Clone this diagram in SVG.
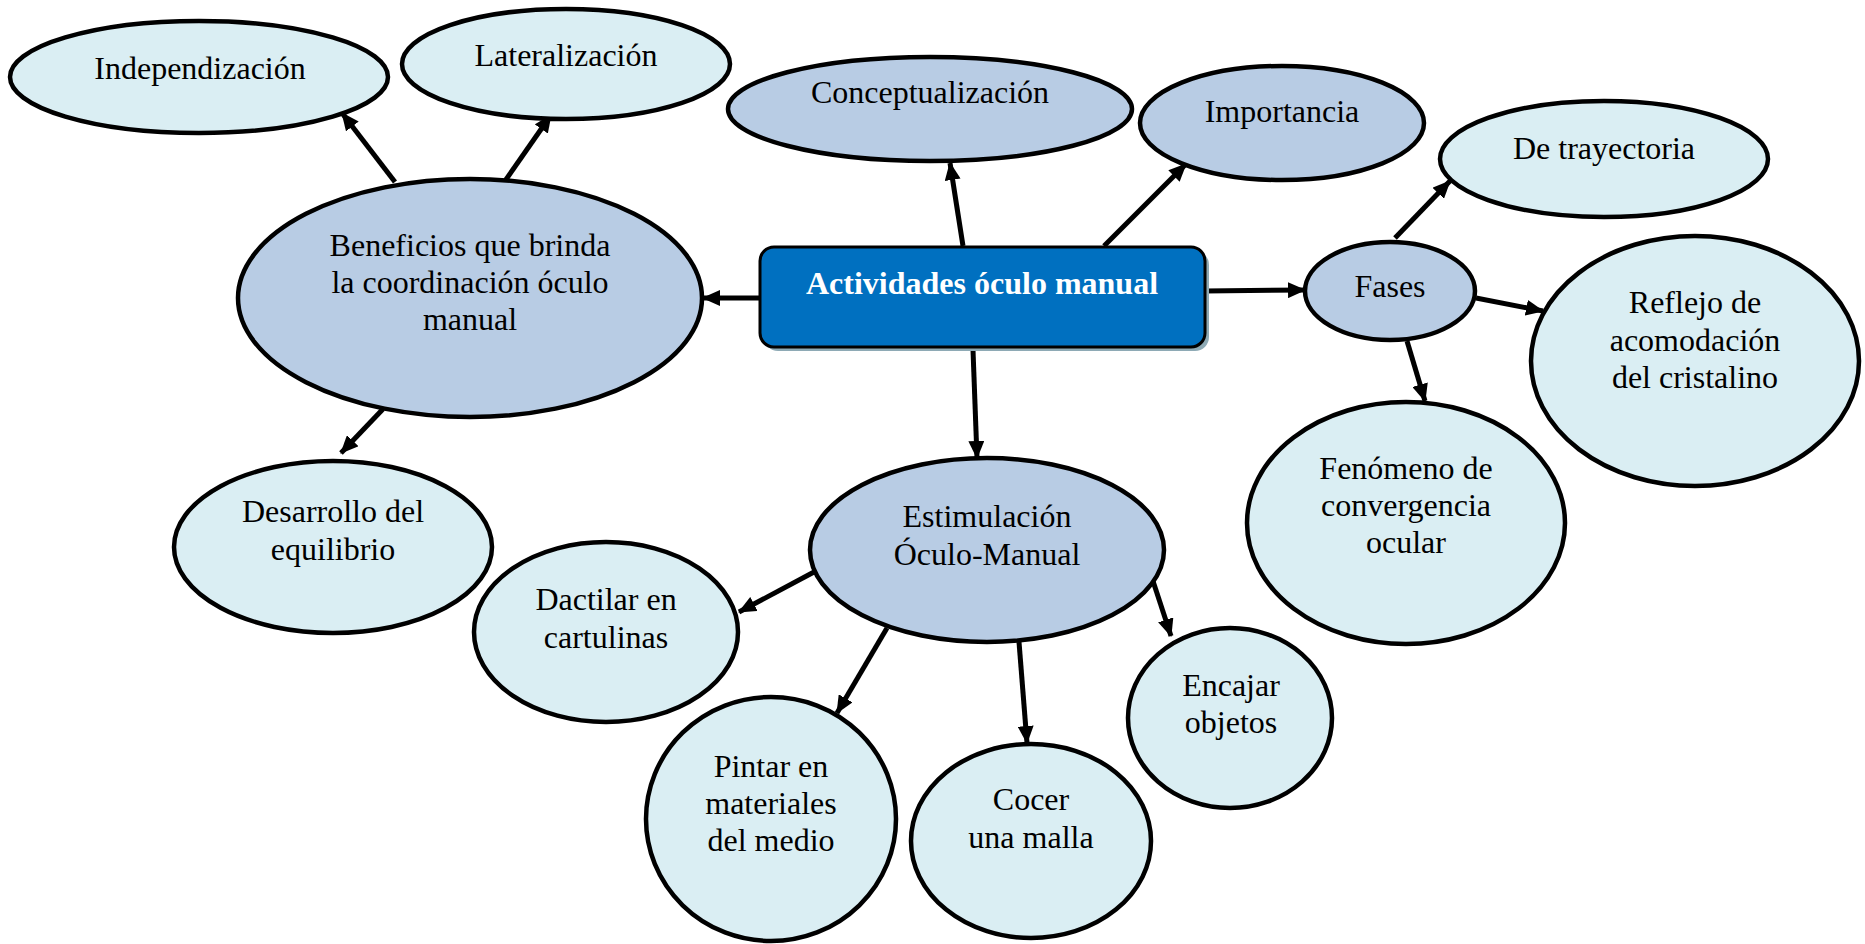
<svg xmlns="http://www.w3.org/2000/svg" width="1865" height="944" viewBox="0 0 1865 944">
<defs>
<style>
.lt{fill:#daeef3;stroke:#000;stroke-width:4.5}
.dk{fill:#b8cce4;stroke:#000;stroke-width:4.5}
.t{font-family:"Liberation Serif","Times New Roman",serif;font-size:32px;fill:#000;text-anchor:middle}
.tb{font-family:"Liberation Serif","Times New Roman",serif;font-size:32px;font-weight:bold;fill:#fff;text-anchor:middle}
.c{stroke:#000;stroke-width:5;fill:none;marker-end:url(#ah)}
</style>
<marker id="ah" markerUnits="userSpaceOnUse" markerWidth="18" markerHeight="16" refX="17" refY="8" orient="auto" viewBox="0 0 18 16">
<path d="M0,0 L18,8 L0,16 z" fill="#000"/>
</marker>
</defs>
<rect width="1865" height="944" fill="#fff"/>
<g id="connectors">
<line class="c" x1="395" y1="182" x2="342" y2="113"/>
<line class="c" x1="505" y1="181" x2="551" y2="115"/>
<line class="c" x1="963" y1="246" x2="950" y2="163"/>
<line class="c" x1="1104" y1="246" x2="1186" y2="164"/>
<line class="c" x1="760" y1="298" x2="703" y2="298"/>
<line class="c" x1="1205" y1="291" x2="1305" y2="290"/>
<line class="c" x1="973" y1="350" x2="977" y2="458"/>
<line class="c" x1="383" y1="409" x2="341" y2="453"/>
<line class="c" x1="1395" y1="238" x2="1450" y2="181"/>
<line class="c" x1="1476" y1="298" x2="1543" y2="311"/>
<line class="c" x1="1407" y1="341" x2="1425" y2="401"/>
<line class="c" x1="814" y1="572" x2="739" y2="612"/>
<line class="c" x1="887" y1="628" x2="837" y2="713"/>
<line class="c" x1="1019" y1="642" x2="1027" y2="743"/>
<line class="c" x1="1152" y1="578" x2="1171" y2="636"/>
</g>
<g id="independizacion"><ellipse class="lt" cx="199" cy="77" rx="189" ry="56"/><text class="t" x="200" y="79">Independización</text></g>
<g id="lateralizacion"><ellipse class="lt" cx="566" cy="64" rx="164" ry="55"/><text class="t" x="566" y="66">Lateralización</text></g>
<g id="conceptualizacion"><ellipse class="dk" cx="930" cy="109" rx="202" ry="52"/><text class="t" x="930" y="103">Conceptualización</text></g>
<g id="importancia"><ellipse class="dk" cx="1282" cy="123" rx="142" ry="57"/><text class="t" x="1282" y="122">Importancia</text></g>
<g id="trayectoria"><ellipse class="lt" cx="1604" cy="159" rx="164" ry="58"/><text class="t" x="1604" y="159">De trayectoria</text></g>
<g id="beneficios"><ellipse class="dk" cx="470" cy="298" rx="232" ry="119"/><text class="t" x="470" y="256">Beneficios que brinda</text><text class="t" x="470" y="293">la coordinación óculo</text><text class="t" x="470" y="330">manual</text></g>
<g id="actividades"><rect x="764" y="251" width="445" height="100" rx="14" fill="#8eaab5"/><rect x="760" y="247" width="445" height="100" rx="14" fill="#0070c0" stroke="#000" stroke-width="3"/><text class="tb" x="982" y="294">Actividades óculo manual</text></g>
<g id="fases"><ellipse class="dk" cx="1390" cy="291" rx="85" ry="49"/><text class="t" x="1390" y="297">Fases</text></g>
<g id="reflejo"><ellipse class="lt" cx="1695" cy="361" rx="164" ry="125"/><text class="t" x="1695" y="313">Reflejo de</text><text class="t" x="1695" y="351">acomodación</text><text class="t" x="1695" y="388">del cristalino</text></g>
<g id="fenomeno"><ellipse class="lt" cx="1406" cy="523" rx="159" ry="121"/><text class="t" x="1406" y="479">Fenómeno de</text><text class="t" x="1406" y="516">convergencia</text><text class="t" x="1406" y="553">ocular</text></g>
<g id="desarrollo"><ellipse class="lt" cx="333" cy="547" rx="159" ry="86"/><text class="t" x="333" y="522">Desarrollo del</text><text class="t" x="333" y="560">equilibrio</text></g>
<g id="estimulacion"><ellipse class="dk" cx="987" cy="550" rx="177" ry="92"/><text class="t" x="987" y="527">Estimulación</text><text class="t" x="987" y="565">Óculo-Manual</text></g>
<g id="dactilar"><ellipse class="lt" cx="606" cy="632" rx="132" ry="90"/><text class="t" x="606" y="610">Dactilar en</text><text class="t" x="606" y="648">cartulinas</text></g>
<g id="encajar"><ellipse class="lt" cx="1230" cy="718" rx="102" ry="90"/><text class="t" x="1231" y="696">Encajar</text><text class="t" x="1231" y="733">objetos</text></g>
<g id="pintar"><ellipse class="lt" cx="771" cy="819" rx="125" ry="122"/><text class="t" x="771" y="777">Pintar en</text><text class="t" x="771" y="814">materiales</text><text class="t" x="771" y="851">del medio</text></g>
<g id="cocer"><ellipse class="lt" cx="1031" cy="841" rx="120" ry="97"/><text class="t" x="1031" y="810">Cocer</text><text class="t" x="1031" y="848">una malla</text></g>
</svg>
